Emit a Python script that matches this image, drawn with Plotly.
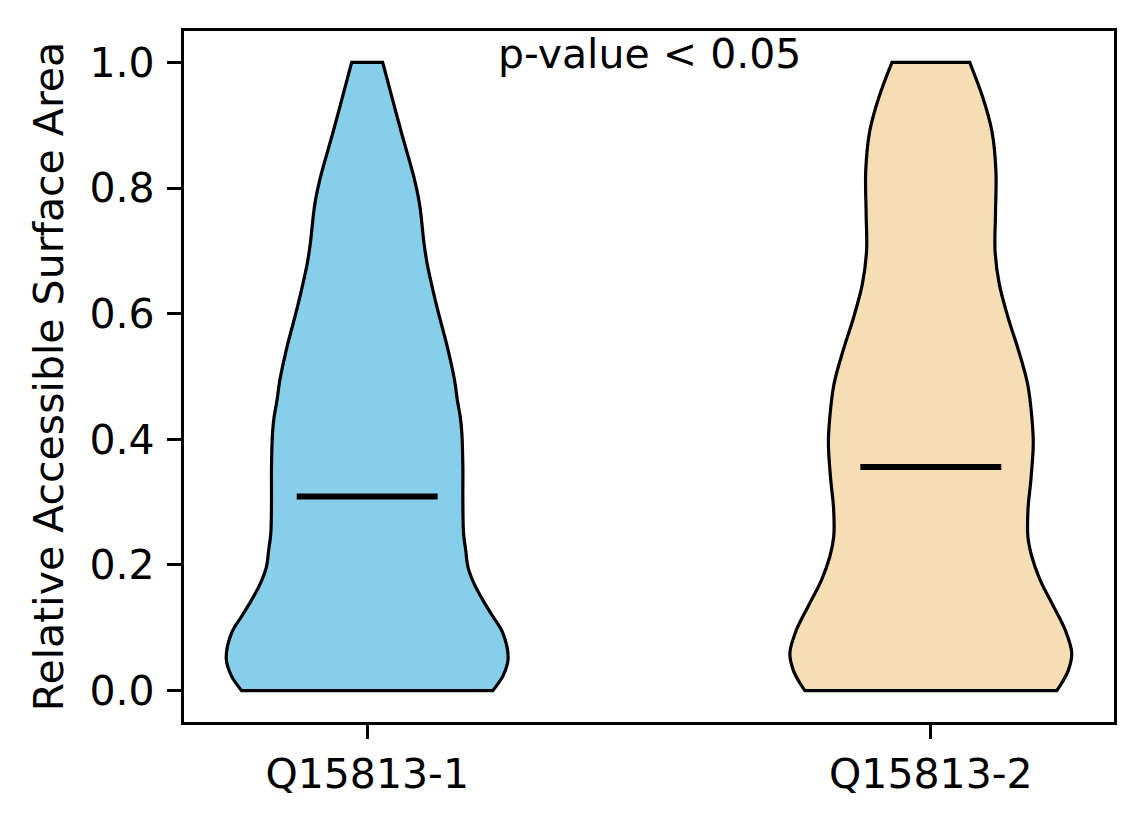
import plotly.graph_objects as go

# violin outlines: relative half-width (1 = widest) at each RSA level
names = ["Q15813-1", "Q15813-2"]
positions = [1, 2]
colors = ["#87CEEB", "#F5DEB3"]

levels_1 = [0.000, 0.007, 0.023, 0.050, 0.0915, 0.118, 0.144, 0.171, 0.197, 0.224,
            0.250, 0.303, 0.356, 0.409, 0.435, 0.462, 0.494, 0.546, 0.600, 0.636,
            0.679, 0.711, 0.774, 0.816, 0.890, 1.000]
width_1 = [0.892, 0.916, 0.963, 1.000, 0.963, 0.892, 0.821, 0.757, 0.715, 0.699,
           0.684, 0.679, 0.679, 0.672, 0.661, 0.640, 0.620, 0.570, 0.507, 0.468,
           0.426, 0.404, 0.372, 0.333, 0.241, 0.110]

levels_2 = [0.000, 0.012, 0.033, 0.060, 0.097, 0.134, 0.176, 0.213, 0.245, 0.290,
            0.335, 0.393, 0.435, 0.488, 0.541, 0.594, 0.647, 0.700, 0.759, 0.827,
            0.890, 0.944, 1.000]
width_2 = [0.894, 0.929, 0.977, 1.000, 0.953, 0.871, 0.776, 0.717, 0.689, 0.690,
           0.710, 0.727, 0.717, 0.687, 0.623, 0.548, 0.486, 0.456, 0.459, 0.462,
           0.434, 0.369, 0.276]

medians = [0.309, 0.356]

levels = [levels_1, levels_2]
widths = [width_1, width_2]

half = 0.25  # violin width 0.5

fig = go.Figure()

for pos, lv, wd, col in zip(positions, levels, widths, colors):
    right_x = [pos + w * half for w in wd]
    left_x = [pos - w * half for w in wd][::-1]
    xs = [right_x[0]] + right_x + [right_x[-1]] + [left_x[0]] + left_x + [left_x[-1]] + [right_x[0]]
    ys = [lv[0]] + lv + [lv[-1]] + [lv[-1]] + lv[::-1] + [lv[0]] + [lv[0]]
    fig.add_trace(go.Scatter(
        x=xs, y=ys, mode="lines", fill="toself", fillcolor=col,
        line=dict(color="black", width=3.2, shape="spline", smoothing=1.0),
        hoverinfo="skip", showlegend=False
    ))

for pos, med in zip(positions, medians):
    fig.add_trace(go.Scatter(
        x=[pos - half / 2, pos + half / 2], y=[med, med], mode="lines",
        line=dict(color="black", width=6), showlegend=False
    ))

fig.add_annotation(
    x=1.5, y=1.0, xref="x", yref="y", text="p-value < 0.05",
    showarrow=False, xanchor="center", yanchor="middle", yshift=8,
    font=dict(size=41, color="black")
)

axis_style = dict(
    showline=True, linecolor="black", linewidth=3.3, mirror=True,
    ticks="outside", ticklen=14, tickwidth=3.3, tickcolor="black",
    showgrid=False, zeroline=False,
    tickfont=dict(size=41, color="black")
)

fig.update_xaxes(
    range=[0.675, 2.325], tickvals=positions, ticktext=names, **axis_style
)
fig.update_yaxes(
    range=[-0.05, 1.05], tickvals=[0, 0.2, 0.4, 0.6, 0.8, 1.0], tickformat=".1f",
    ticklabelstandoff=4,
    title=dict(text="Relative Accessible Surface Area", font=dict(size=41, color="black"), standoff=14),
    **axis_style
)

# page body has an 8px margin, so the figure is a bit smaller than the window
fig.update_layout(
    width=1136, height=816,
    margin=dict(l=176, r=30, t=23, b=102),
    plot_bgcolor="white", paper_bgcolor="white",
    font=dict(family="DejaVu Sans", color="black"),
    showlegend=False
)

fig.write_html("out.html")
